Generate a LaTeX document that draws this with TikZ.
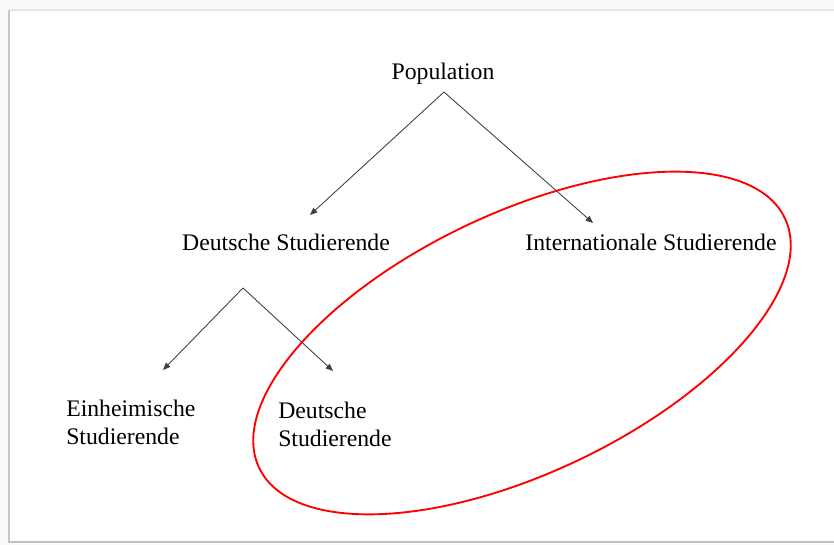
\documentclass[tikz,border=0pt]{standalone}
\usepackage{fontspec}
\setmainfont{Liberation Serif}
\usepackage{tikz}
\usetikzlibrary{calc,arrows.meta}

\tikzset{
  pfeil/.style = {line width=0.65pt, black!75, -{Triangle[length=5.5pt,width=4.5pt]}},
  txt/.style = {inner sep=0pt, font=\fontsize{17.8pt}{21pt}\selectfont},
  kreis/.style = {red, line width=1.4pt}
}

\begin{document}
\begin{tikzpicture}[x=0.75pt,y=-0.75pt]
        \useasboundingbox (0,0) rectangle (834,545);
        % Blatt mit Schatten
        \fill[gray!4](0,0)rectangle(834,545);
        \fill[white](10,10)rectangle(834,541);
        \draw[gray!45, line width=2.2pt](9,10)to(9,543);
        \draw[gray!20, line width=0.8pt](10,10)to(834,10);
        \draw[gray!50, line width=1.5pt](9,542)to(834,542);
        % Knoten
        \node[txt, anchor=base](pop)at(443,80){Population};
        \node[txt, anchor=base](deutsch)at(286,250){Deutsche Studierende};
        \node[txt, anchor=base](intl)at(651,250){Internationale Studierende};
        \node[txt, anchor=base west, align=left](einh)at(66,444){Einheimische\\Studierende};
        \node[txt, anchor=base west, align=left](deutsch2)at(278,446){Deutsche\\Studierende};
        \coordinate(top)at(444,92);
        \coordinate(tipD)at(310,215);
        \coordinate(tipI)at(593,223);
        \coordinate(mid)at(243,288);
        \coordinate(tipE)at(163,370);
        \coordinate(tipD2)at(333,371);
        % Pfeile
        \draw[pfeil](top)to(tipD);
        \draw[pfeil](top)to(tipI);
        \draw[pfeil](mid)to(tipE);
        \draw[pfeil](mid)to(tipD2);
        % Ellipse
        \draw[kreis, rotate around={25.4:(522,343)}](522,343)ellipse[x radius=291, y radius=130];
    \end{tikzpicture}
\end{document}
